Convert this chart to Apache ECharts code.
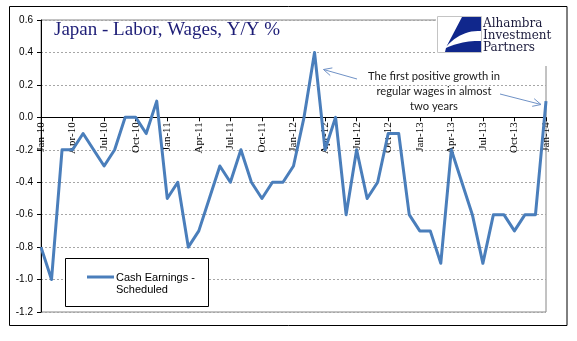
<!DOCTYPE html>
<html>
<head>
<meta charset="utf-8">
<title>Japan - Labor, Wages, Y/Y %</title>
<script src="https://cdn.jsdelivr.net/npm/echarts/dist/echarts.min.js"></script>
<style>
  html, body { margin: 0; padding: 0; background: #ffffff; }
  #chart { width: 577px; height: 341px; }
</style>
</head>
<body>
<div id="chart"></div>
<script>
// Monthly categories, Jan-10 through Jan-14
const monthNames = ['Jan', 'Feb', 'Mar', 'Apr', 'May', 'Jun', 'Jul', 'Aug', 'Sep', 'Oct', 'Nov', 'Dec'];
const categories = [];
for (let yr = 10; yr <= 14; yr++) {
  for (let m = 0; m < 12; m++) {
    if (yr === 14 && m > 0) break;
    categories.push(monthNames[m] + '-' + yr);
  }
}

// Scheduled cash earnings, year-over-year % change
const cashEarningsScheduled = [
  -0.8, -1.0, -0.2, -0.2, -0.1, -0.2, -0.3, -0.2, 0.0, 0.0, -0.1, 0.1,   // 2010
  -0.5, -0.4, -0.8, -0.7, -0.5, -0.3, -0.4, -0.2, -0.4, -0.5, -0.4, -0.4, // 2011
  -0.3, 0.0, 0.4, -0.2, 0.0, -0.6, -0.2, -0.5, -0.4, -0.1, -0.1, -0.6,   // 2012
  -0.7, -0.7, -0.9, -0.2, -0.4, -0.6, -0.9, -0.6, -0.6, -0.7, -0.6, -0.6, // 2013
  0.1                                                                    // 2014
];

const legendLines = ['Cash Earnings -', 'Scheduled'];
const seriesName = legendLines.join(' ');
const titleText = 'Japan - Labor, Wages, Y/Y %';
const noteLines = ['The first positive growth in', 'regular wages in almost', 'two years'];
const logoLines = ['Alhambra', 'Investment', 'Partners'];

const yMin = -1.2;
const yMax = 0.6;
const yStep = 0.2;

const lineColor = '#4a7ebb';
const arrowColor = '#7092c6';
const logoBlue = '#10278c';

// Plot box
const gridBox = { left: 41, top: 20, right: 31, bottom: 29 };
const plotHeight = 341 - gridBox.top - gridBox.bottom;
// The category axis sits on the zero line of the value axis
const zeroOffset = -plotHeight * (0 - yMin) / (yMax - yMin);

// Open arrowhead pointing at (hx, hy), shaft coming from (tx, ty)
function arrow(tx, ty, hx, hy) {
  const dx = tx - hx, dy = ty - hy;
  const len = Math.sqrt(dx * dx + dy * dy);
  const ux = dx / len, uy = dy / len;
  const a = 26 * Math.PI / 180, h = 9;
  const p1 = [hx + h * (ux * Math.cos(a) - uy * Math.sin(a)), hy + h * (ux * Math.sin(a) + uy * Math.cos(a))];
  const p2 = [hx + h * (ux * Math.cos(-a) - uy * Math.sin(-a)), hy + h * (ux * Math.sin(-a) + uy * Math.cos(-a))];
  return [
    { type: 'line', silent: true, z: 60, shape: { x1: tx, y1: ty, x2: hx, y2: hy },
      style: { stroke: arrowColor, lineWidth: 1 } },
    { type: 'polyline', silent: true, z: 60, shape: { points: [p1, [hx, hy], p2] },
      style: { stroke: arrowColor, lineWidth: 1, fill: 'none' } }
  ];
}

// Points along a quadratic curve, for the logo outline
function quad(p0, c, p1, n) {
  const pts = [];
  for (let i = 0; i <= n; i++) {
    const t = i / n, s = 1 - t;
    pts.push([s * s * p0[0] + 2 * s * t * c[0] + t * t * p1[0],
              s * s * p0[1] + 2 * s * t * c[1] + t * t * p1[1]]);
  }
  return pts;
}

function txt(text, x, y, font, fill, align, vAlign, extra, z) {
  return {
    type: 'text', silent: true, z: z || 70,
    style: Object.assign({
      text: text, x: x, y: y, font: font, fill: fill,
      align: align, textAlign: align,
      verticalAlign: vAlign, textVerticalAlign: vAlign
    }, extra || {})
  };
}

const logoUpper = [[462, 17], [481, 17], [481, 31]].concat(quad([481, 31], [461, 30], [446.5, 46.5], 12));
const logoLower = quad([446, 48], [462, 40.5], [481, 41], 12).concat([[481, 52], [445, 52]]);

const graphics = [
  // outer frame
  { type: 'rect', silent: true, z: 100,
    shape: { x: 9.5, y: 6.5, width: 557.5, height: 319 },
    style: { fill: 'none', stroke: '#000', lineWidth: 1 } },
  // logo panel
  { type: 'rect', silent: true, z: 50,
    shape: { x: 436, y: 15, width: 126, height: 51 },
    style: { fill: '#ffffff' } },
  { type: 'rect', silent: true, z: 51,
    shape: { x: 437.5, y: 16.5, width: 44, height: 36 },
    style: { fill: '#ffffff', stroke: '#c4c4c4', lineWidth: 1 } },
  { type: 'polygon', silent: true, z: 52, shape: { points: logoUpper }, style: { fill: logoBlue } },
  { type: 'polygon', silent: true, z: 52, shape: { points: logoLower }, style: { fill: logoBlue } },
  txt(logoLines[0], 483, 24, '12px "DejaVu Serif"', '#1b1b3c', 'left', 'middle'),
  txt(logoLines[1], 483, 36, '12px "DejaVu Serif"', '#1b1b3c', 'left', 'middle'),
  txt(logoLines[2], 483, 48, '12px "DejaVu Serif"', '#1b1b3c', 'left', 'middle'),
  // annotation
  txt(noteLines.join('\n'), 434, 68.5, '11.2px Lato', '#1a1a1a', 'center', 'top', { lineHeight: 15 }),
  // legend box
  { type: 'rect', silent: true, z: 80,
    shape: { x: 65.5, y: 258.5, width: 143, height: 48 },
    style: { fill: '#ffffff', stroke: '#000', lineWidth: 1 } },
  { type: 'line', silent: true, z: 81,
    shape: { x1: 87, y1: 277, x2: 114, y2: 277 },
    style: { stroke: lineColor, lineWidth: 3 } },
  txt(legendLines[0], 116, 277.5, '11px "Liberation Sans"', '#000', 'left', 'middle', null, 81),
  txt(legendLines[1], 116, 289.5, '11px "Liberation Sans"', '#000', 'left', 'middle', null, 81)
].concat(arrow(357, 79, 323.5, 69.5), arrow(500, 94, 541, 104.5));

const chart = echarts.init(document.getElementById('chart'), null, { renderer: 'canvas' });

chart.setOption({
  animation: false,
  backgroundColor: '#ffffff',
  title: {
    text: titleText,
    left: 54,
    top: 21,
    padding: 0,
    textStyle: { fontFamily: 'Liberation Serif', fontSize: 19, fontWeight: 'normal', color: '#1c1c76' }
  },
  grid: {
    left: gridBox.left, top: gridBox.top, right: gridBox.right, bottom: gridBox.bottom,
    containLabel: false,
    outerBoundsMode: 'none',
    show: true, borderColor: '#868686', borderWidth: 1, backgroundColor: 'transparent'
  },
  xAxis: {
    type: 'category',
    data: categories,
    boundaryGap: false,
    position: 'bottom',
    offset: zeroOffset,
    axisLine: { onZero: false, lineStyle: { color: '#000', width: 1 } },
    axisTick: { show: true, interval: 2, length: 4, lineStyle: { color: '#000' } },
    axisLabel: {
      interval: 2, rotate: 90, margin: 5,
      fontFamily: 'Liberation Serif', fontSize: 11, color: '#000'
    },
    splitLine: { show: false }
  },
  yAxis: {
    type: 'value',
    min: yMin, max: yMax, interval: yStep,
    axisLine: { show: true, lineStyle: { color: '#000', width: 1 } },
    axisTick: { show: true, length: 4, lineStyle: { color: '#000' } },
    axisLabel: {
      margin: 8,
      formatter: function (v) { return v.toFixed(1); },
      fontFamily: 'Liberation Sans', fontSize: 10, color: '#000'
    },
    splitLine: { show: true, lineStyle: { color: '#a6a6a6', width: 1, type: [2, 2] } }
  },
  series: [{
    type: 'line',
    name: seriesName,
    data: cashEarningsScheduled,
    symbol: 'none',
    lineStyle: { color: lineColor, width: 3, join: 'round' },
    z: 3
  }],
  graphic: graphics
});
</script>
</body>
</html>
